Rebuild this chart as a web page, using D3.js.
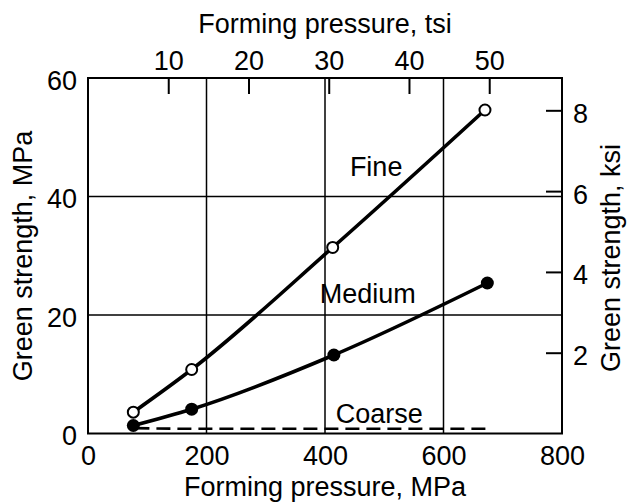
<!DOCTYPE html>
<html>
<head>
<meta charset="utf-8">
<script src="https://cdn.jsdelivr.net/npm/d3@7"></script>
<style>
  html, body { margin: 0; padding: 0; background: #fff; }
  svg { display: block; }
  text { font-family: "Liberation Sans", Arial, Helvetica, sans-serif; fill: #000; }
</style>
</head>
<body>
<svg id="chart" width="627" height="504"></svg>
<script>
// ---- data ----
const fineX   = [76.5, 175, 413, 670];
const fineY   = [3.6, 10.8, 31.4, 54.6];
const mediumX = [76.5, 175, 415, 674];
const mediumY = [1.35, 4.1, 13.25, 25.4];
const coarseX = [80, 175, 413, 673];
const coarseY = [0.9, 0.8, 0.8, 0.8];

const mpaTicks = [0, 200, 400, 600, 800];
const mpaGrid  = [200, 400, 600];
const strTicks = [0, 20, 40, 60];
const strGrid  = [20, 40];
const tsiTicks = [10, 20, 30, 40, 50];
const ksiTicks = [2, 4, 6, 8];

const seriesLabels = [
  { text: "Fine",   x: 442, y: 43.4 },
  { text: "Medium", x: 391, y: 22.0 },
  { text: "Coarse", x: 418, y: 1.8 }
];

// ---- layout ----
const margin = { left: 88, top: 78, right: 65, bottom: 70.5 };
const W = 627 - margin.left - margin.right;   // 474
const H = 504 - margin.top - margin.bottom;   // 355.5
const FS = 27;

const svg = d3.select("#chart");
const g = svg.append("g").attr("transform", `translate(${margin.left},${margin.top})`);

const x = d3.scaleLinear().domain([0, 800]).range([0, W]);
const y = d3.scaleLinear().domain([0, 60]).range([H, 0]);
const xTsi = d3.scaleLinear().domain([0, 59.07]).range([0, W]);
const yKsi = d3.scaleLinear().domain([0, 8.8]).range([H, 0]);

// grid
g.selectAll("line.vg").data(mpaGrid).join("line")
  .attr("x1", d => x(d)).attr("x2", d => x(d))
  .attr("y1", 0).attr("y2", H)
  .attr("stroke", "#000").attr("stroke-width", 1.5);
g.selectAll("line.hg").data(strGrid).join("line")
  .attr("x1", 0).attr("x2", W)
  .attr("y1", d => y(d)).attr("y2", d => y(d))
  .attr("stroke", "#000").attr("stroke-width", 1.5);

// axes
function styleAxis(sel) {
  sel.select(".domain").remove();
  sel.selectAll("text").attr("font-size", FS).style("font-family", '"Liberation Sans", Arial, sans-serif').attr("fill", "#000");
  sel.selectAll("line").attr("stroke", "#000").attr("stroke-width", 2);
}

const axB = g.append("g").attr("transform", `translate(0,${H})`)
  .call(d3.axisBottom(x).tickValues(mpaTicks).tickSize(0).tickPadding(12).tickFormat(d3.format("d")));
styleAxis(axB);

const axL = g.append("g")
  .call(d3.axisLeft(y).tickValues(strTicks).tickSize(0).tickPadding(11).tickFormat(d3.format("d")));
styleAxis(axL);
axL.selectAll("text").attr("dy", "0.42em");

const axT = g.append("g")
  .call(d3.axisTop(xTsi).tickValues(tsiTicks).tickSize(-16).tickPadding(8).tickFormat(d3.format("d")));
styleAxis(axT);

const axR = g.append("g").attr("transform", `translate(${W},0)`)
  .call(d3.axisRight(yKsi).tickValues(ksiTicks).tickSize(-16).tickPadding(11).tickFormat(d3.format("d")));
styleAxis(axR);
axR.selectAll("text").attr("dy", "0.44em");

// frame
g.append("rect").attr("x", 0).attr("y", 0).attr("width", W).attr("height", H)
  .attr("fill", "none").attr("stroke", "#000").attr("stroke-width", 2);

// series
const lineGen = d3.line().x(d => x(d[0])).y(d => y(d[1])).curve(d3.curveMonotoneX);
const fine = fineX.map((v, i) => [v, fineY[i]]);
const medium = mediumX.map((v, i) => [v, mediumY[i]]);
const coarse = coarseX.map((v, i) => [v, coarseY[i]]);

g.append("path").datum(coarse).attr("d", lineGen)
  .attr("fill", "none").attr("stroke", "#000").attr("stroke-width", 2.6)
  .attr("stroke-dasharray", "14,7");
g.append("path").datum(fine).attr("d", lineGen)
  .attr("fill", "none").attr("stroke", "#000").attr("stroke-width", 3.6);
g.append("path").datum(medium).attr("d", lineGen)
  .attr("fill", "none").attr("stroke", "#000").attr("stroke-width", 3.6);

g.selectAll("circle.med").data(medium).join("circle")
  .attr("cx", d => x(d[0])).attr("cy", d => y(d[1])).attr("r", 6.5)
  .attr("fill", "#000");
g.selectAll("circle.fine").data(fine).join("circle")
  .attr("cx", d => x(d[0])).attr("cy", d => y(d[1])).attr("r", 5.5)
  .attr("fill", "#fff").attr("stroke", "#000").attr("stroke-width", 2);

// series labels
g.selectAll("text.lbl").data(seriesLabels).join("text")
  .attr("x", d => x(d.x)).attr("y", d => y(d.y))
  .attr("font-size", FS).text(d => d.text);

// titles
svg.append("text").attr("x", margin.left + W / 2).attr("y", 33)
  .attr("text-anchor", "middle").attr("font-size", FS).text("Forming pressure, tsi");
svg.append("text").attr("x", margin.left + W / 2).attr("y", 496)
  .attr("text-anchor", "middle").attr("font-size", FS).text("Forming pressure, MPa");
svg.append("text").attr("transform", `translate(32,256) rotate(-90)`)
  .attr("text-anchor", "middle").attr("font-size", FS).text("Green strength, MPa");
svg.append("text").attr("transform", `translate(620,258) rotate(-90)`)
  .attr("text-anchor", "middle").attr("font-size", FS).text("Green strength, ksi");
</script>
</body>
</html>
